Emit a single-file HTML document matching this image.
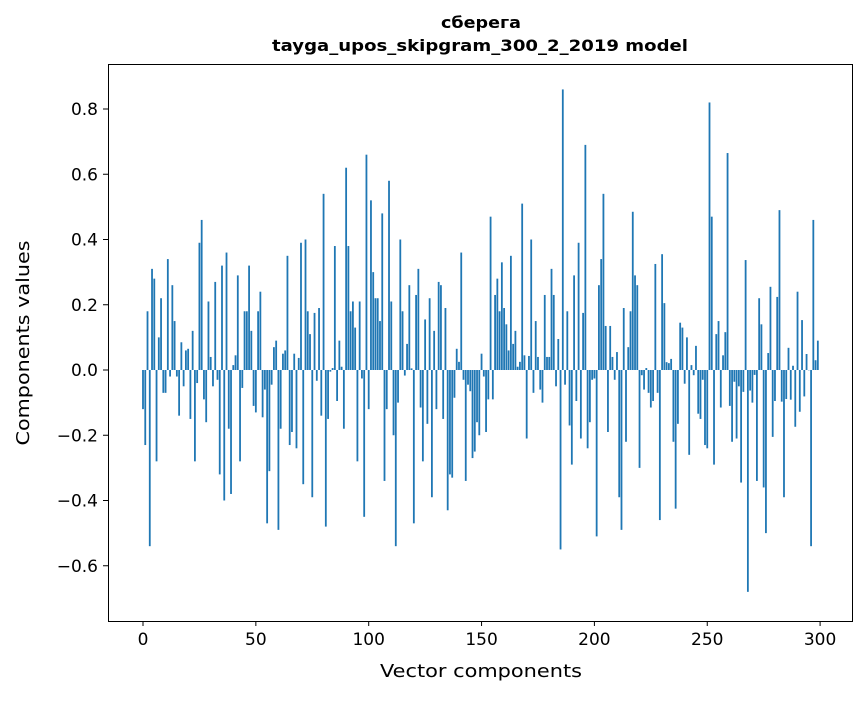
<!DOCTYPE html>
<html><head><meta charset="utf-8">
<style>
body{margin:0;background:#fff;}
svg text{font-family:"DejaVu Sans","Liberation Sans",sans-serif;fill:#000;}
</style></head>
<body>
<svg id="chart" width="867" height="696" xmlns="http://www.w3.org/2000/svg">
<rect width="867" height="696" fill="#fff"/>
<text x="481" y="28" text-anchor="middle" font-size="16" font-weight="bold" textLength="80" lengthAdjust="spacingAndGlyphs">сберега</text>
<text x="480" y="51" text-anchor="middle" font-size="16" font-weight="bold" textLength="416" lengthAdjust="spacingAndGlyphs">tayga_upos_skipgram_300_2_2019 model</text>
<g id="bars"></g>
<g id="axes"></g>
<rect x="108.5" y="64.5" width="744" height="557" fill="none" stroke="#000" stroke-width="1"/>
<text x="481" y="677" text-anchor="middle" font-size="18" textLength="202" lengthAdjust="spacingAndGlyphs">Vector components</text>
<text transform="translate(29,343) rotate(-90)" text-anchor="middle" font-size="18" textLength="205" lengthAdjust="spacingAndGlyphs">Components values</text>
</svg>
<script>
const values = [
-0.12,-0.23,0.18,-0.54,0.31,0.28,-0.28,0.10,0.22,-0.07,-0.07,0.34,-0.02,0.26,0.15,-0.02,-0.14,0.085,-0.05,0.06,
0.065,-0.15,0.12,-0.28,-0.04,0.39,0.46,-0.09,-0.16,0.21,0.04,-0.05,0.27,-0.03,-0.32,0.32,-0.40,0.36,-0.18,-0.38,
0.015,0.045,0.29,-0.28,-0.055,0.18,0.18,0.32,0.12,-0.11,-0.13,0.18,0.24,-0.145,-0.06,-0.47,-0.31,-0.045,0.07,0.09,
-0.49,-0.18,0.05,0.06,0.35,-0.23,-0.19,0.05,-0.24,0.037,0.39,-0.35,0.40,0.18,0.11,-0.39,0.175,-0.033,0.19,-0.14,
0.54,-0.48,-0.15,-0.005,0.006,0.38,-0.095,0.09,0.01,-0.18,0.62,0.38,0.18,0.21,0.13,-0.28,0.21,-0.026,-0.45,0.66,
-0.12,0.52,0.30,0.22,0.22,0.15,0.48,-0.34,-0.12,0.58,0.21,-0.20,-0.54,-0.10,0.40,0.18,-0.017,0.08,0.26,0.005,
-0.47,0.23,0.31,-0.115,-0.28,0.155,-0.165,0.22,-0.39,0.12,-0.12,0.27,0.26,-0.15,0.19,-0.43,-0.32,-0.33,-0.085,0.065,
0.025,0.36,-0.03,-0.34,-0.045,-0.065,-0.27,-0.25,-0.16,-0.20,0.05,-0.02,-0.19,-0.09,0.47,-0.09,0.23,0.28,0.18,0.33,
0.19,0.14,0.06,0.35,0.08,0.12,0.01,0.025,0.51,0.045,-0.21,0.043,0.40,-0.07,0.15,0.04,-0.06,-0.10,0.23,0.04,
0.04,0.31,0.23,-0.05,0.095,-0.55,0.86,-0.045,0.18,-0.17,-0.29,0.29,-0.095,0.39,-0.21,0.175,0.69,-0.24,-0.16,-0.03,
-0.026,-0.51,0.26,0.34,0.54,0.135,-0.19,0.135,0.04,-0.03,0.055,-0.39,-0.49,0.19,-0.22,0.07,0.18,0.485,0.29,0.26,
-0.30,-0.016,-0.06,0.006,-0.07,-0.115,-0.095,0.325,-0.07,-0.46,0.355,0.205,0.024,0.021,0.034,-0.22,-0.425,-0.165,0.145,0.13,
-0.042,0.10,-0.26,0.015,-0.016,0.074,-0.134,-0.15,-0.03,-0.23,-0.24,0.82,0.47,-0.29,0.11,0.15,-0.115,0.045,0.116,0.665,
-0.11,-0.22,-0.036,-0.21,-0.05,-0.345,-0.067,0.337,-0.68,-0.063,-0.10,-0.015,-0.34,0.22,0.14,-0.36,-0.50,0.052,0.255,-0.205,
-0.095,0.224,0.49,-0.097,-0.39,-0.089,0.068,-0.091,0.013,-0.174,0.24,-0.128,0.153,-0.081,0.049,0.0,-0.54,0.46,0.03,0.09
];
const yTicks = [-0.6,-0.4,-0.2,0.0,0.2,0.4,0.6,0.8];
const xTicks = [0,50,100,150,200,250,300];

const NS="http://www.w3.org/2000/svg";
function xScale(i){return 143+2.257*i;}
function yScale(v){return 370-326.25*v;}
const bars=document.getElementById('bars');
values.forEach((v,i)=>{
  const r=document.createElementNS(NS,'rect');
  
  
  const y0=yScale(0), y1=yScale(v);
  r.setAttribute('x',xScale(i)-0.9);
  r.setAttribute('width',1.8);
  r.setAttribute('y',Math.min(y0,y1));
  r.setAttribute('height',Math.max(Math.abs(y1-y0),0.3));
  r.setAttribute('fill','#1f77b4');
  bars.appendChild(r);
});
const axes=document.getElementById('axes');
yTicks.forEach(t=>{
  const y=yScale(t);
  const l=document.createElementNS(NS,'line');
  
  
  l.setAttribute('x1',103);l.setAttribute('x2',108);l.setAttribute('y1',y);l.setAttribute('y2',y);
  l.setAttribute('stroke','#000');
  axes.appendChild(l);
  const tx=document.createElementNS(NS,'text');
  
  
  tx.setAttribute('x',98);tx.setAttribute('y',y+6);
  tx.setAttribute('text-anchor','end');tx.setAttribute('font-size','17');
  tx.textContent=(t<0?'\u2212':'')+Math.abs(t).toFixed(1);
  axes.appendChild(tx);
});
xTicks.forEach(t=>{
  const x=xScale(t);
  const l=document.createElementNS(NS,'line');
  
  
  l.setAttribute('x1',x);l.setAttribute('x2',x);l.setAttribute('y1',621);l.setAttribute('y2',626);
  l.setAttribute('stroke','#000');
  axes.appendChild(l);
  const tx=document.createElementNS(NS,'text');
  
  
  tx.setAttribute('x',x);tx.setAttribute('y',645);
  tx.setAttribute('text-anchor','middle');tx.setAttribute('font-size','17');
  tx.textContent=t;
  axes.appendChild(tx);
});
</script>
</body></html>
